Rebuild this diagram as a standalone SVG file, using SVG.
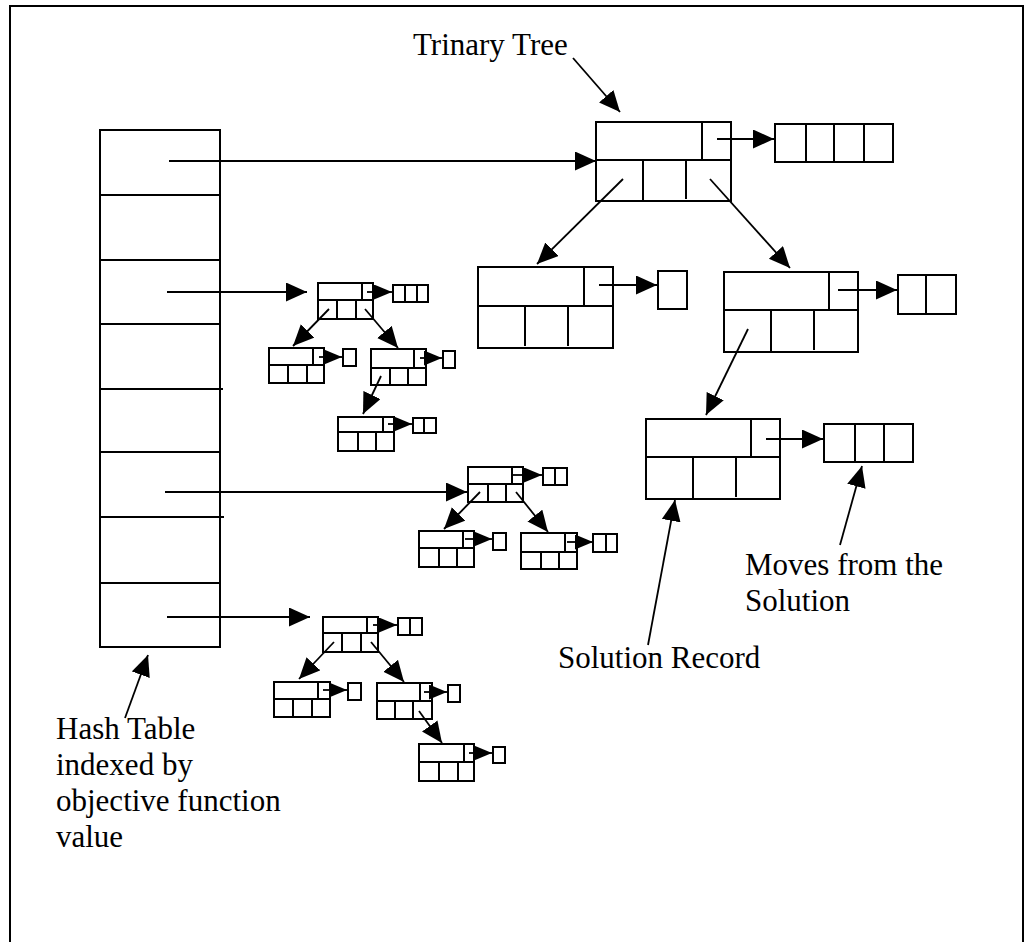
<svg xmlns="http://www.w3.org/2000/svg" width="1032" height="942" viewBox="0 0 1032 942">
<style>
.b{fill:none;stroke:#000;stroke-width:2}
.l{fill:none;stroke:#000;stroke-width:2}
.a{fill:none;stroke:#000;stroke-width:1.8;marker-end:url(#ah)}
.s{fill:none;stroke:#000;stroke-width:1.8;marker-end:url(#as)}
.t{font-family:"Liberation Serif","Times New Roman",serif;font-size:31px;fill:#000}
</style>
<defs>
<marker id="ah" markerUnits="userSpaceOnUse" markerWidth="22" markerHeight="20" refX="21" refY="9.5" orient="auto"><path d="M0,0 L21,9.5 L0,19 z" fill="#000"/></marker>
<marker id="as" markerUnits="userSpaceOnUse" markerWidth="19" markerHeight="16" refX="18" refY="7.5" orient="auto"><path d="M0,0 L18,7.5 L0,15 z" fill="#000"/></marker>
</defs>
<rect x="10" y="6" width="1013" height="960" class="b"/>
<g id="hash-table">
<rect x="100" y="130" width="120" height="517" class="b"/>
<path class="l" d="M100 195H220M100 260H220M100 324H220M100 389H223M99 452H220M100 517H224M100 583H220"/>
</g>
<g id="root">
<rect x="596" y="122" width="135" height="79" class="b"/>
<path class="l" d="M596 160H731M702 122V160M643 160V201M686 160V199"/>
</g>
<g id="root-moves">
<rect x="775" y="124" width="118" height="38" class="b"/>
<path class="l" d="M806 124V162M834 124V162M864 124V162"/>
</g>
<g id="left-child">
<rect x="478" y="267" width="135" height="81" class="b"/>
<path class="l" d="M478 306H613M584 267V306M525 306V346M568 306V346"/>
</g>
<g id="left-child-moves"><rect x="658" y="271" width="29" height="38" class="b"/></g>
<g id="right-child">
<rect x="724" y="272" width="134" height="80" class="b"/>
<path class="l" d="M724 310H858M829 272V310M771 310V352M814 310V350"/>
</g>
<g id="right-child-moves">
<rect x="898" y="275" width="58" height="39" class="b"/>
<path class="l" d="M926 275V314"/>
</g>
<g id="solution-record">
<rect x="646" y="419" width="134" height="80" class="b"/>
<path class="l" d="M646 457H780M751 419V457M693 457V499M736 457V497"/>
</g>
<g id="solution-moves">
<rect x="824" y="424" width="89" height="38" class="b"/>
<path class="l" d="M855 424V462M884 424V462"/>
</g>
<g id="a-root">
<rect x="318" y="283" width="55" height="36" class="b"/>
<path class="l" d="M318 300H373M362 283V300M337 300V319M356 300V319"/>
<rect x="393" y="285" width="35" height="17" class="b"/>
<path class="l" d="M405 285V302M417 285V302"/>
</g>
<g id="a-left">
<rect x="269" y="348" width="55" height="35" class="b"/>
<path class="l" d="M269 365H324M313 348V365M288 365V383M307 365V383"/>
<rect x="343" y="349" width="13" height="17" class="b"/>
</g>
<g id="a-right">
<rect x="371" y="349" width="55" height="36" class="b"/>
<path class="l" d="M371 368H426M414 349V368M390 368V385M408 368V385"/>
<rect x="443" y="351" width="12" height="17" class="b"/>
</g>
<g id="a-grandchild">
<rect x="338" y="417" width="56" height="34" class="b"/>
<path class="l" d="M338 432H394M383 417V432M358 432V451M376 432V451"/>
<rect x="413" y="418" width="23" height="15" class="b"/>
<path class="l" d="M424 418V433"/>
</g>
<g id="b-root">
<rect x="468" y="467" width="55" height="35" class="b"/>
<path class="l" d="M468 484H523M512 467V484M488 484V502M506 484V502"/>
<rect x="543" y="468" width="24" height="17" class="b"/>
<path class="l" d="M555 468V485"/>
</g>
<g id="b-left">
<rect x="419" y="531" width="55" height="36" class="b"/>
<path class="l" d="M419 548H474M463 531V548M439 548V567M457 548V567"/>
<rect x="493" y="533" width="13" height="17" class="b"/>
</g>
<g id="b-right">
<rect x="521" y="533" width="56" height="36" class="b"/>
<path class="l" d="M521 552H577M565 533V552M541 552V569M559 552V569"/>
<rect x="593" y="534" width="24" height="18" class="b"/>
<path class="l" d="M606 534V552"/>
</g>
<g id="c-root">
<rect x="323" y="617" width="55" height="35" class="b"/>
<path class="l" d="M323 633H378M367 617V633M342 633V652M361 633V652"/>
<rect x="398" y="618" width="24" height="17" class="b"/>
<path class="l" d="M410 618V635"/>
</g>
<g id="c-left">
<rect x="274" y="682" width="56" height="35" class="b"/>
<path class="l" d="M274 699H330M318 682V699M293 699V717M312 699V717"/>
<rect x="348" y="683" width="13" height="17" class="b"/>
</g>
<g id="c-right">
<rect x="377" y="683" width="55" height="36" class="b"/>
<path class="l" d="M377 701H432M420 683V701M395 701V719M413 701V719"/>
<rect x="448" y="685" width="12" height="17" class="b"/>
</g>
<g id="c-grandchild">
<rect x="419" y="744" width="55" height="37" class="b"/>
<path class="l" d="M419 762H474M464 744V762M439 762V781M458 762V781"/>
<rect x="493" y="747" width="12" height="16" class="b"/>
</g>
<g id="connectors">
<path class="a" d="M169 161H596"/>
<path class="a" d="M167 292H307"/>
<path class="a" d="M165 492H467"/>
<path class="a" d="M167 617H310"/>
<path class="a" d="M717 139H774"/>
<path class="a" d="M623 179L537 264"/>
<path class="a" d="M710 179L790 268"/>
<path class="a" d="M599 285H657"/>
<path class="a" d="M838 290H897"/>
<path class="a" d="M748 329L706 415"/>
<path class="a" d="M766 439H823"/>
<path class="s" d="M367 292H392"/>
<path class="a" d="M329 309L293 346"/>
<path class="a" d="M365 309L398 348"/>
<path class="s" d="M319 357H342"/>
<path class="s" d="M420 358H442"/>
<path class="a" d="M381 376L363 414"/>
<path class="s" d="M388 424H412"/>
<path class="s" d="M513 475H542"/>
<path class="a" d="M480 492L444 529"/>
<path class="a" d="M516 492L548 532"/>
<path class="s" d="M465 539H492"/>
<path class="s" d="M567 542H593"/>
<path class="s" d="M373 625H397"/>
<path class="a" d="M334 642L299 679"/>
<path class="a" d="M371 642L404 682"/>
<path class="s" d="M323 690H347"/>
<path class="s" d="M424 692H447"/>
<path class="a" d="M419 711L442 743"/>
<path class="s" d="M469 753H492"/>
<path class="a" d="M573 58L620 112"/>
<path class="a" d="M125 718L148 655"/>
<path class="a" d="M648 645L675 500"/>
<path class="a" d="M840 545L862 466"/>
</g>
<g id="labels">
<text class="t" x="413" y="55">Trinary Tree</text>
<text class="t" x="56" y="739">Hash Table</text>
<text class="t" x="56" y="775">indexed by</text>
<text class="t" x="56" y="811">objective function</text>
<text class="t" x="56" y="847">value</text>
<text class="t" x="558" y="668">Solution Record</text>
<text class="t" x="745" y="575">Moves from the</text>
<text class="t" x="745" y="611">Solution</text>
</g>
</svg>
